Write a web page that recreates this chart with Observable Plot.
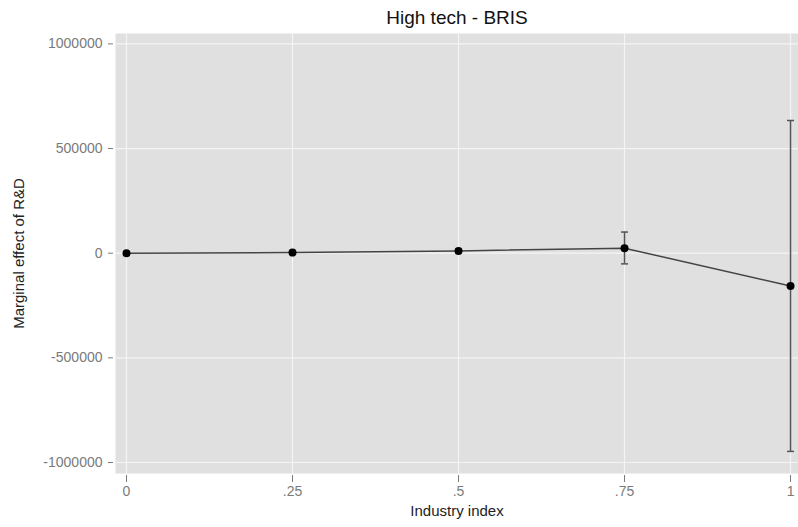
<!DOCTYPE html>
<html>
<head>
<meta charset="utf-8">
<script src="https://cdn.jsdelivr.net/npm/d3@7"></script>
<script src="https://cdn.jsdelivr.net/npm/@observablehq/plot@0.6"></script>
<style>
  html, body { margin: 0; padding: 0; background: #fff; }
  svg { font-family: "Liberation Sans", Arial, sans-serif; }
</style>
</head>
<body>
<div id="chart"></div>
<script>
const industryIndex = [0, 0.25, 0.5, 0.75, 1];
const marginalEffect = [0, 3000, 11000, 24000, -157000];
const ciLower = [-3000, -2000, 2000, -51000, -947000];
const ciUpper = [3000, 8000, 20000, 101000, 634000];
const xTicks = [0, 0.25, 0.5, 0.75, 1];
const xTickLabels = ["0", ".25", ".5", ".75", "1"];
const yTicks = [-1000000, -500000, 0, 500000, 1000000];
const yTickLabels = ["-1000000", "-500000", "0", "500000", "1000000"];

const data = industryIndex.map((x, i) => ({x, y: marginalEffect[i], lo: ciLower[i], hi: ciUpper[i]}));

const capSymbol = {
  draw(context, size) {
    const w = 3.5;
    context.moveTo(-w, 0);
    context.lineTo(w, 0);
  }
};

const chart = Plot.plot({
  width: 798,
  height: 527,
  marginLeft: 115,
  marginRight: 0,
  marginTop: 33,
  marginBottom: 54,
  style: {background: "#fff", fontFamily: "Liberation Sans, Arial, sans-serif"},
  x: {domain: [-0.01657, 1.012], ticks: xTicks},
  y: {domain: [-1052600, 1049700], ticks: yTicks},
  marks: [
    Plot.frame({fill: "#e0e0e0", stroke: null}),
    Plot.gridX(xTicks, {stroke: "#f4f4f4", strokeOpacity: 1, strokeWidth: 1.2}),
    Plot.gridY(yTicks, {stroke: "#f4f4f4", strokeOpacity: 1, strokeWidth: 1.2}),
    Plot.axisX(xTicks, {
      tickSize: 7, dy: 2, tickPadding: 4, fontSize: 14, color: "#7a7a7a",
      tickFormat: (d) => xTickLabels[xTicks.indexOf(d)],
      label: null
    }),
    Plot.axisY(yTicks, {
      tickSize: 5, dx: -2, tickPadding: 6, fontSize: 14, color: "#7a7a7a",
      tickFormat: (d) => yTickLabels[yTicks.indexOf(d)],
      label: null
    }),
    Plot.text(["Industry index"], {frameAnchor: "bottom", dy: 42, fontSize: 15, fill: "#222"}),
    Plot.text(["Marginal effect of R&D"], {frameAnchor: "left", textAnchor: "middle", dx: -96, rotate: -90, fontSize: 15, fill: "#222"}),
    Plot.text(["High tech - BRIS"], {frameAnchor: "top", lineAnchor: "middle", dy: -16, fontSize: 19, fill: "#111"}),
    Plot.ruleX(data, {x: "x", y1: "lo", y2: "hi", stroke: "#555", strokeWidth: 1.5}),
    Plot.dot(data, {x: "x", y: "lo", symbol: capSymbol, stroke: "#555", strokeWidth: 1.5, fill: "none"}),
    Plot.dot(data, {x: "x", y: "hi", symbol: capSymbol, stroke: "#555", strokeWidth: 1.5, fill: "none"}),
    Plot.line(data, {x: "x", y: "y", stroke: "#444", strokeWidth: 1.5}),
    Plot.dot(data, {x: "x", y: "y", r: 4, fill: "#000", stroke: "none"})
  ]
});
document.getElementById("chart").appendChild(chart);
</script>
</body>
</html>
